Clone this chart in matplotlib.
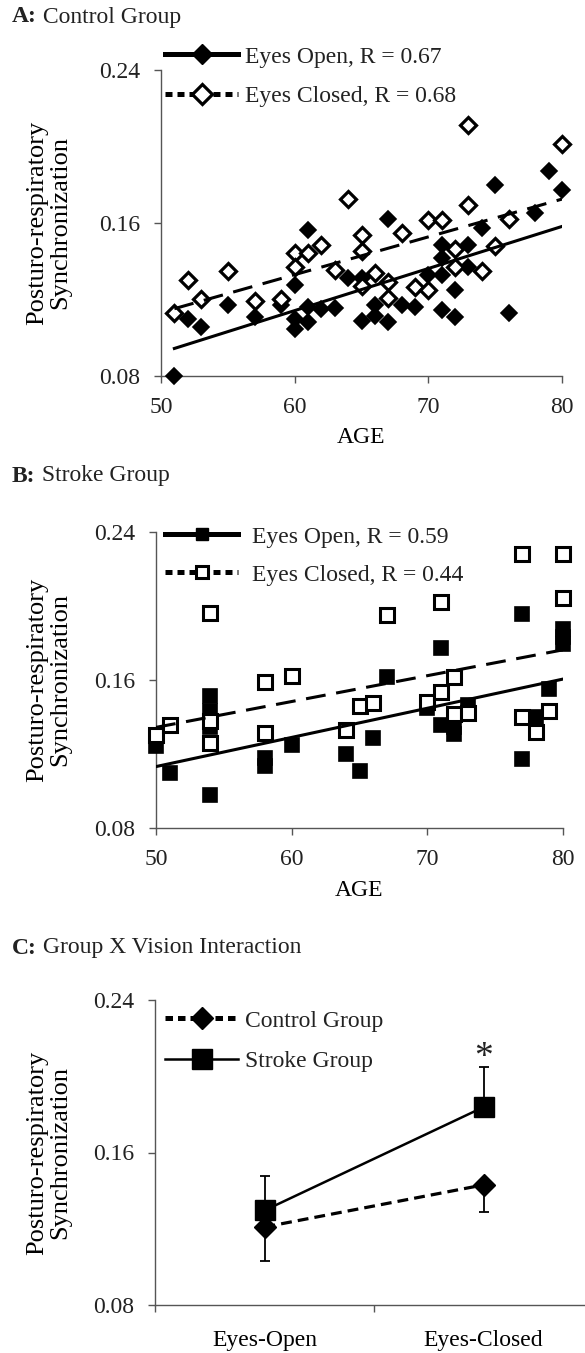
import numpy as np
import matplotlib.pyplot as plt
from matplotlib.lines import Line2D

plt.rcParams['font.family'] = ['Liberation Serif', 'DejaVu Serif']
plt.rcParams['text.color'] = '#222222'

# ---- data ----
# A: control group
a_open_age = [51, 52, 53, 55, 57, 59, 60, 60, 60, 61, 61, 61, 62, 63, 64, 65, 65, 66, 66,
              67, 67, 68, 69, 70, 71, 71, 71, 71, 72, 72, 73, 73, 74, 75, 76, 78, 79, 80]
a_open_val = [0.080, 0.110, 0.1055, 0.117, 0.111, 0.117, 0.1275, 0.110, 0.1046, 0.1565, 0.116,
              0.108, 0.115, 0.1155, 0.131, 0.131, 0.109, 0.117, 0.1116, 0.1623, 0.108, 0.117,
              0.116, 0.1328, 0.1486, 0.1415, 0.1328, 0.1143, 0.1249, 0.1108, 0.1486, 0.1371,
              0.1573, 0.1799, 0.1129, 0.1653, 0.1872, 0.177]
a_closed_age = [51, 52, 53, 55, 57, 59, 60, 60, 61, 62, 63, 64, 65, 65, 65, 66, 67, 67, 68,
                69, 70, 70, 71, 72, 72, 73, 73, 74, 75, 76, 80]
a_closed_val = [0.1127, 0.1303, 0.1205, 0.135, 0.119, 0.120, 0.1442, 0.1368, 0.1442, 0.1484,
                0.1354, 0.1723, 0.1535, 0.1451, 0.127, 0.1336, 0.129, 0.121, 0.1546, 0.1265,
                0.1616, 0.1251, 0.1616, 0.1462, 0.137, 0.2113, 0.1692, 0.135, 0.1479, 0.1622,
                0.2015]
a_trend_age = [51, 80]
a_trend_open = [0.0944, 0.1582]
a_trend_closed = [0.1152, 0.1725]

# B: stroke group
b_open_age = [50, 51, 54, 54, 54, 54, 54, 58, 58, 60, 64, 65, 66, 67, 70, 71, 71, 72, 72, 73,
              77, 77, 78, 79, 80, 80, 80]
b_open_val = [0.1244, 0.110, 0.1515, 0.1434, 0.1344, 0.1255, 0.0979, 0.118, 0.1136, 0.125,
              0.120, 0.1109, 0.1286, 0.1614, 0.1446, 0.1772, 0.1356, 0.1347, 0.131, 0.1465,
              0.1958, 0.1172, 0.140, 0.155, 0.1876, 0.1831, 0.1795]
b_closed_age = [50, 51, 54, 54, 54, 58, 58, 60, 64, 65, 66, 67, 70, 71, 71, 72, 72, 73, 77, 77,
                78, 79, 80, 80]
b_closed_val = [0.1304, 0.1356, 0.196, 0.1376, 0.1262, 0.1587, 0.1311, 0.162, 0.1331, 0.1457,
                0.1474, 0.1952, 0.1483, 0.2021, 0.1537, 0.1614, 0.1416, 0.1423, 0.2283, 0.1398,
                0.132, 0.1434, 0.2283, 0.2044]
b_trend_age = [50, 80]
b_trend_open = [0.1132, 0.1605]
b_trend_closed = [0.1344, 0.1763]

# C: group x vision
c_cats = ['Eyes-Open', 'Eyes-Closed']
c_control = [0.1209, 0.1430]
c_control_err = [0.0180, 0.0143]
c_stroke = [0.1296, 0.1838]
c_stroke_err = [0.0182, 0.0213]

ylab = 'Posturo-respiratory\nSynchronization'
FS = 17
W, H = 585, 1353
fig = plt.figure(figsize=(W / 100, H / 100), dpi=100)
renderer = fig.canvas.get_renderer()


def add_ax(left, right, top, bottom):
    return fig.add_axes([left / W, 1 - bottom / H, (right - left) / W, (bottom - top) / H])


def style(ax, left, width):
    for s in ['top', 'right']:
        ax.spines[s].set_visible(False)
    for s in ['left', 'bottom']:
        ax.spines[s].set_color('#555555')
        ax.spines[s].set_linewidth(1.0)
    ax.tick_params(direction='out', length=5, width=1, color='#555555',
                   labelsize=FS, pad=10, labelcolor='#222222')
    ax.set_ylim(0.08, 0.24)
    ax.set_yticks([0.08, 0.16, 0.24])
    ax.set_yticklabels(['0.08', '0.16', '0.24'])
    ax.set_ylabel(ylab, fontsize=19, va='center', ha='center', linespacing=1.05)
    ax.yaxis.set_label_coords((49 - left) / width, 0.5)


def title(y, bold, rest):
    t = fig.text(12 / W, 1 - y / H, bold, ha='left', va='center', fontsize=FS, fontweight='bold')
    x_end = t.get_window_extent(renderer).x1
    fig.text(x_end / W, 1 - y / H, rest, ha='left', va='center', fontsize=FS)


def scatter_panel(ax, open_age, open_val, closed_age, closed_val, trend_age, t_open, t_closed,
                  mk, ms, mew, h, leg_ms):
    ax.plot(open_age, open_val, ls='none', marker=mk, ms=ms, mfc='black', mec='black',
            mew=1.2, clip_on=False, zorder=3)
    ax.plot(closed_age, closed_val, ls='none', marker=mk, ms=ms, mfc='white', mec='black',
            mew=mew, clip_on=False, zorder=4)
    ax.plot(trend_age, t_open, color='black', lw=2.2, zorder=5)
    ax.plot(trend_age, t_closed, color='black', lw=2.2, dashes=(6.5, 3.5), zorder=5)
    ax.set_xlim(50, 80)
    ax.set_xticks([50, 60, 70, 80])
    ax.set_xlabel('AGE', fontsize=FS, va='center')
    ax.xaxis.set_label_coords(0.5, -62 / h)
    handles = [Line2D([], [], color='black', lw=3.6, marker=mk, ms=leg_ms, mfc='black', mec='black'),
               Line2D([], [], color='black', lw=3.6, dashes=(1.4, 1.0), marker=mk, ms=leg_ms,
                      mfc='white', mec='black', mew=mew)]
    return handles


# ---- A ----
axA = add_ax(161, 562, 70, 376)
style(axA, 161, 401)
hA = scatter_panel(axA, a_open_age, a_open_val, a_closed_age, a_closed_val, a_trend_age,
                   a_trend_open, a_trend_closed, 'D', 8.6, 2.3, 306, 10)
axA.legend(hA, ['Eyes Open, R = 0.67', 'Eyes Closed, R = 0.68'], loc='upper left',
           bbox_to_anchor=(165 / W, 1 - 46 / H), bbox_transform=fig.transFigure,
           frameon=False, fontsize=FS, handlelength=3.1, handletextpad=0.3,
           labelspacing=0.75, borderpad=0, borderaxespad=0)
title(17, 'A:', ' Control Group')

# ---- B ----
axB = add_ax(156, 563, 532, 828)
style(axB, 156, 407)
hB = scatter_panel(axB, b_open_age, b_open_val, b_closed_age, b_closed_val, b_trend_age,
                   b_trend_open, b_trend_closed, 's', 9.8, 2.2, 296, 9)
axB.legend(hB, ['Eyes Open, R = 0.59', 'Eyes Closed, R = 0.44'], loc='upper left',
           bbox_to_anchor=(165 / W, 1 - 526 / H), bbox_transform=fig.transFigure,
           frameon=False, fontsize=FS, handlelength=3.1, handletextpad=0.6,
           labelspacing=0.7, borderpad=0, borderaxespad=0)
title(476, 'B:', ' Stroke Group')

# ---- C ----
axC = add_ax(155, 593, 1000, 1305)
style(axC, 155, 438)
xc = np.array([0.5, 1.5])
axC.errorbar(xc, c_control, yerr=[c_control_err, np.zeros(2)], fmt='none', ecolor='black',
             elinewidth=1.3, capsize=3.4, capthick=1.3, zorder=2)
axC.errorbar(xc, c_stroke, yerr=[np.zeros(2), c_stroke_err], fmt='none', ecolor='black',
             elinewidth=1.3, capsize=3.4, capthick=1.3, zorder=2)
axC.plot(xc, c_control, color='black', lw=2.3, dashes=(3.4, 1.9), marker='D', ms=11,
         mfc='black', mec='black', zorder=3)
axC.plot(xc, c_stroke, color='black', lw=1.8, marker='s', ms=14, mfc='black', mec='black',
         zorder=4)
axC.text(1.5, c_stroke[1] + c_stroke_err[1] - 0.0045, '*', ha='center', va='bottom', fontsize=27)
axC.set_xlim(0, 2)
axC.set_xticks([0, 1, 2])
axC.set_xticklabels([])
axC.set_xticks(xc, labels=c_cats, minor=True)
axC.tick_params(axis='x', which='minor', length=0, pad=18, labelsize=FS)
hC = [Line2D([], [], color='black', lw=3.6, dashes=(1.5, 1.0), marker='D', ms=11,
             mfc='black', mec='black'),
      Line2D([], [], color='black', lw=1.8, marker='s', ms=14, mfc='black', mec='black')]
axC.legend(hC, ['Control Group', 'Stroke Group'], loc='upper left',
           bbox_to_anchor=(165 / W, 1 - 1010 / H), bbox_transform=fig.transFigure,
           frameon=False, fontsize=FS, handlelength=3.1, handletextpad=0.3,
           labelspacing=0.8, borderpad=0, borderaxespad=0)
title(948, 'C:', ' Group X Vision Interaction')

fig.savefig('out.png', dpi=100)
